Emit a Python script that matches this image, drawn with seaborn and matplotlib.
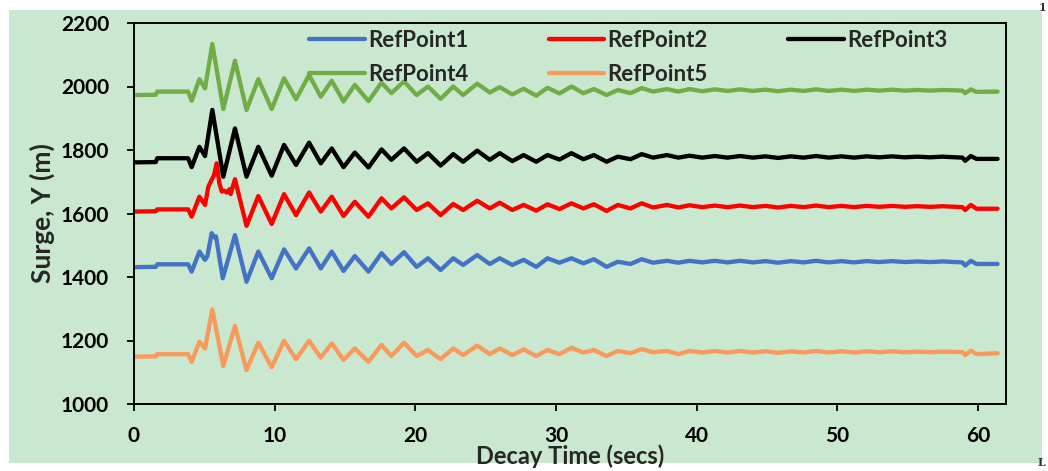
import matplotlib
matplotlib.use("Agg")
import matplotlib.pyplot as plt
from matplotlib.lines import Line2D
from matplotlib.patches import Rectangle
import pandas as pd
import seaborn as sns

# ---- data -------------------------------------------------------------
series_names = ["RefPoint1", "RefPoint2", "RefPoint3", "RefPoint4", "RefPoint5"]
series_colors = ["#4472C4", "#FF0000", "#000000", "#70AD47", "#F79A5B"]

# instants (s) before and during the first large swing
t_onset = [0.0, 1.55, 1.65, 3.85, 4.1, 4.65, 5.05, 5.57, 6.35]
t_onset_ref1 = [0.0, 1.55, 1.65, 3.85, 4.1, 4.65, 5.05, 5.22, 5.52, 5.69, 5.83, 6.31]
t_onset_ref2 = [0.0, 1.55, 1.65, 3.85, 4.1, 4.65, 5.05, 5.29, 5.52, 5.69, 5.88,
                6.07, 6.24, 6.4, 6.59, 6.78, 6.87]

# peak / trough instants (s) of the decaying oscillation, shared by all points
t_tail = [7.18, 8.0, 8.84, 9.79, 10.67, 11.52, 12.45, 13.28, 14.06, 14.9,
          15.7, 16.67, 17.6, 18.3, 19.2, 20.1, 20.9, 21.8, 22.7, 23.4,
          24.4, 25.3, 26.0, 26.9, 27.7, 28.6, 29.4, 30.25, 31.1, 31.95,
          32.7, 33.6, 34.4, 35.3, 36.1, 36.9, 37.9, 38.7, 39.5, 40.4,
          41.3, 42.2, 43.1, 44.0, 44.9, 45.8, 46.7, 47.6, 48.5, 49.4,
          50.3, 51.2, 52.1, 53.0, 53.9, 54.8, 55.7, 56.6, 57.5, 58.4,
          58.9, 59.1, 59.5, 59.9, 61.4]

onset_ref1 = [1431, 1432, 1440, 1440, 1417, 1480, 1454, 1466, 1538, 1525, 1528, 1396]
onset_ref2 = [1606, 1607, 1613, 1613, 1590, 1653, 1627, 1685, 1706, 1721, 1758,
              1695, 1669, 1672, 1666, 1676, 1661]
onset_ref3 = [1761, 1762, 1774, 1774, 1746, 1810, 1781, 1926, 1716]
onset_ref4 = [1973, 1974, 1984, 1984, 1955, 2023, 1994, 2134, 1929]
onset_ref5 = [1149, 1150, 1157, 1157, 1133, 1196, 1175, 1298, 1120]

tail_ref1 = [1532, 1385, 1480, 1396, 1487, 1427, 1490, 1427, 1480, 1419,
             1466, 1417, 1475, 1441, 1478, 1432, 1459, 1422, 1459, 1438,
             1469, 1441, 1459, 1438, 1454, 1432, 1459, 1445, 1459, 1443,
             1456, 1432, 1448, 1441, 1456, 1445, 1451, 1445, 1451, 1446,
             1451, 1446, 1451, 1446, 1450, 1445, 1450, 1446, 1451, 1446,
             1450, 1446, 1450, 1447, 1450, 1447, 1449, 1447, 1449, 1447,
             1446, 1436, 1451, 1441, 1441]
tail_ref2 = [1708, 1561, 1655, 1567, 1661, 1595, 1666, 1606, 1653, 1592,
             1637, 1590, 1648, 1616, 1651, 1611, 1632, 1595, 1630, 1611,
             1640, 1616, 1634, 1611, 1627, 1609, 1629, 1614, 1632, 1616,
             1629, 1608, 1627, 1616, 1632, 1619, 1627, 1619, 1626, 1620,
             1625, 1620, 1625, 1620, 1624, 1619, 1624, 1620, 1625, 1620,
             1624, 1620, 1624, 1621, 1624, 1621, 1623, 1621, 1623, 1621,
             1620, 1611, 1627, 1615, 1615]
tail_ref3 = [1868, 1716, 1810, 1719, 1816, 1753, 1823, 1758, 1805, 1746,
             1792, 1745, 1802, 1769, 1805, 1763, 1790, 1751, 1787, 1763,
             1798, 1769, 1790, 1765, 1784, 1763, 1784, 1770, 1790, 1771,
             1784, 1763, 1779, 1771, 1787, 1776, 1784, 1776, 1782, 1776,
             1781, 1776, 1781, 1776, 1780, 1775, 1780, 1776, 1781, 1776,
             1780, 1776, 1780, 1777, 1780, 1777, 1779, 1777, 1779, 1777,
             1776, 1766, 1781, 1772, 1772]
tail_ref4 = [2081, 1926, 2023, 1929, 2026, 1960, 2036, 1968, 2018, 1953,
             2005, 1954, 2012, 1979, 2016, 1973, 2000, 1961, 2000, 1973,
             2009, 1981, 1998, 1975, 1993, 1971, 1996, 1978, 2000, 1979,
             1992, 1973, 1989, 1979, 1995, 1984, 1992, 1984, 1992, 1985,
             1991, 1986, 1991, 1986, 1990, 1985, 1990, 1986, 1991, 1986,
             1990, 1986, 1990, 1987, 1990, 1987, 1989, 1987, 1989, 1988,
             1987, 1979, 1991, 1983, 1984]
tail_ref5 = [1246, 1107, 1193, 1116, 1199, 1141, 1199, 1146, 1191, 1139,
             1175, 1133, 1186, 1151, 1193, 1151, 1170, 1141, 1175, 1154,
             1184, 1157, 1175, 1154, 1172, 1151, 1170, 1157, 1177, 1162,
             1170, 1151, 1167, 1160, 1173, 1163, 1167, 1157, 1167, 1162,
             1167, 1162, 1167, 1162, 1166, 1161, 1166, 1162, 1167, 1162,
             1166, 1162, 1166, 1163, 1166, 1163, 1165, 1163, 1165, 1164,
             1163, 1154, 1168, 1157, 1160]

x_ticks = [0, 10, 20, 30, 40, 50, 60]
y_ticks = [1000, 1200, 1400, 1600, 1800, 2000, 2200]

# ---- long-form table ------------------------------------------------------
frames = []
for name, t0, v0, v1 in [
    ("RefPoint1", t_onset_ref1, onset_ref1, tail_ref1),
    ("RefPoint2", t_onset_ref2, onset_ref2, tail_ref2),
    ("RefPoint3", t_onset, onset_ref3, tail_ref3),
    ("RefPoint4", t_onset, onset_ref4, tail_ref4),
    ("RefPoint5", t_onset, onset_ref5, tail_ref5),
]:
    frames.append(pd.DataFrame({"time": t0 + t_tail, "surge": v0 + v1, "series": name}))
df = pd.concat(frames, ignore_index=True)

# ---- style ----------------------------------------------------------------
sns.set_theme(style="ticks")
fam = ["Lato", "DejaVu Sans"]
plt.rcParams["font.family"] = fam
plt.rcParams["font.weight"] = "bold"
bg = "#CAE8CF"
lw = 3.1

fig = plt.figure(figsize=(10.48, 4.71), dpi=100, facecolor="white")
fig.patches.append(Rectangle((9 / 1048, 8 / 471), 1033 / 1048, 453 / 471,
                             transform=fig.transFigure, facecolor=bg,
                             edgecolor="none", zorder=-10))
ax = fig.add_axes([134 / 1048, 1 - 404 / 471, 872 / 1048, 381 / 471])
ax.set_facecolor(bg)

sns.lineplot(data=df, x="time", y="surge", hue="series", hue_order=series_names,
             palette=series_colors, estimator=None, sort=False, linewidth=lw,
             legend=False, ax=ax)
for ln in ax.lines:
    ln.set_solid_joinstyle("round")
    ln.set_solid_capstyle("round")

ax.set_xlim(0, 62)
ax.set_ylim(1000, 2200)
ax.set_xticks(x_ticks)
ax.set_yticks(y_ticks)
ax.tick_params(direction="out", length=5, width=1.3, labelsize=15, color="black",
               labelcolor="black")
ax.tick_params(axis="y", pad=13)
ax.tick_params(axis="x", pad=11)
for lab in ax.get_xticklabels() + ax.get_yticklabels():
    lab.set_fontweight("bold")
for sp in ax.spines.values():
    sp.set_visible(True)
    sp.set_color("black")
    sp.set_linewidth(1.4)

ax.set_xlabel("Decay Time (secs)", fontsize=17, fontweight="bold", labelpad=-1)
ax.set_ylabel("Surge, Y (m)", fontsize=19, fontweight="bold", labelpad=4)

# legend laid out row by row: 1 2 3 / 4 5
handles = [Line2D([0], [0], color=c, lw=lw) for c in series_colors]
order = [0, 3, 1, 4, 2]
ax.legend([handles[i] for i in order], [series_names[i] for i in order],
          ncol=3, frameon=False, loc="upper left",
          bbox_to_anchor=(309 / 1048, 1 - 30 / 471), bbox_transform=fig.transFigure,
          borderpad=0, borderaxespad=0, handlelength=2.5, handletextpad=0.15,
          columnspacing=3.62, labelspacing=0.58,
          prop={"family": fam, "weight": "bold", "size": 16})

# page fragments at the right-hand margin
fig.text(1039 / 1048, 1 - 2 / 471, "1", fontsize=8, family="DejaVu Serif",
         color="#333333", ha="left", va="top")
fig.text(1038 / 1048, 1 - 462 / 471, "L", fontsize=8, family="DejaVu Serif",
         color="#333333", ha="left", va="center")

fig.savefig("out.png", dpi=100, facecolor="white")
